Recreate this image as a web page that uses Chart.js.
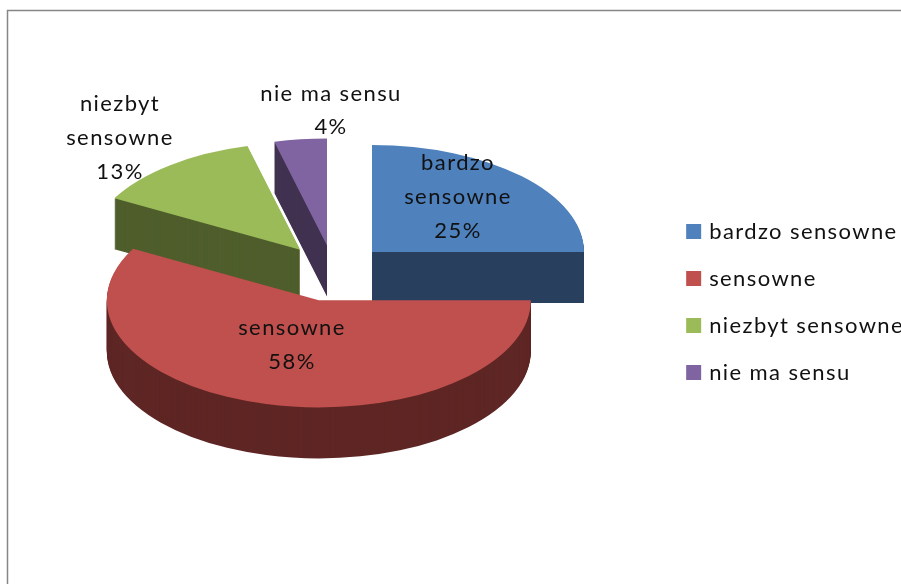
<!DOCTYPE html>
<html>
<head>
<meta charset="utf-8">
<style>html,body{margin:0;padding:0;background:#fff;overflow:hidden}canvas{display:block}</style>
<script src="https://cdn.jsdelivr.net/npm/chart.js@4"></script>
</head>
<body>
<canvas id="c" width="901" height="584"></canvas>
<script>
const categories = ['bardzo sensowne', 'sensowne', 'niezbyt sensowne', 'nie ma sensu'];
const values = [25, 58, 13, 4];
const topColors = ['#4F81BD', '#C0504D', '#9BBB59', '#8064A2'];
const sideColors = ['#283F5E', '#5E2624', '#4F5E2C', '#403250'];
const explode = [54.447, 59, 54.4, 51.9];
const drawOrder = [0, 3, 2, 1];
const labelLines = [['bardzo', 'sensowne', '25%'], ['sensowne', '58%'], ['niezbyt', 'sensowne', '13%'], ['nie ma sensu', '4%']];
const labelCenters = [[458, 197], [292, 345], [120, 138], [331, 110.5]];

const FONT = '22px Lato';
const SPACING = '1.4px';
const SQUASH = 0.505, DEPTH = 51, CX = 333.5, CY = 271.5;

function flatOptions(color) {
  return { backgroundColor: color, borderColor: color, borderWidth: 0, borderAlign: 'center', borderRadius: 0,
    borderJoinStyle: 'round', borderDash: [], borderDashOffset: 0, offset: 0, spacing: 0, circular: true, selfJoin: false };
}

const pie3d = {
  id: 'pie3d',
  beforeLayout(chart) { chart.ctx.letterSpacing = SPACING; },
  beforeDraw(chart) {
    const ctx = chart.ctx;
    ctx.letterSpacing = SPACING;
    ctx.save();
    ctx.strokeStyle = '#868686';
    ctx.lineWidth = 1.5;
    ctx.beginPath();
    ctx.moveTo(7.5, 584); ctx.lineTo(7.5, 10.5); ctx.lineTo(901, 10.5);
    ctx.stroke();
    ctx.restore();
  },
  beforeDatasetsDraw(chart) {
    const ctx = chart.ctx;
    const arcs = chart.getDatasetMeta(0).data;
    drawOrder.forEach(i => {
      const arc = arcs[i];
      const mid = (arc.startAngle + arc.endAngle) / 2;
      const paint = (shift, color) => {
        ctx.save();
        ctx.translate(CX, CY + shift);
        ctx.scale(1, SQUASH);
        ctx.translate(Math.cos(mid) * explode[i] - arc.x, Math.sin(mid) * explode[i] - arc.y);
        const saved = arc.options;
        arc.options = flatOptions(color);
        arc.draw(ctx);
        arc.options = saved;
        ctx.restore();
      };
      for (let d = DEPTH; d > 0; d--) paint(d, sideColors[i]);
      paint(0, topColors[i]);
    });
    return false;
  },
  afterDraw(chart) {
    const ctx = chart.ctx;
    ctx.save();
    ctx.font = FONT;
    ctx.letterSpacing = SPACING;
    ctx.fillStyle = '#111';
    ctx.textAlign = 'center';
    ctx.textBaseline = 'middle';
    labelLines.forEach((lines, i) => {
      const [x, y] = labelCenters[i];
      lines.forEach((t, k) => ctx.fillText(t, x, y + (k - (lines.length - 1) / 2) * 33.7));
    });
    ctx.restore();
  }
};

new Chart(document.getElementById('c'), {
  type: 'pie',
  data: { labels: categories, datasets: [{ data: values, backgroundColor: topColors, borderWidth: 0 }] },
  options: {
    responsive: false,
    animation: false,
    layout: { padding: { top: 90, bottom: 70, left: 0, right: -13 } },
    plugins: {
      tooltip: { enabled: false },
      legend: {
        position: 'right',
        labels: {
          font: { family: 'Lato', size: 22 },
          color: '#111',
          boxWidth: 9,
          boxHeight: 9,
          padding: 25,
          generateLabels(chart) {
            return Chart.overrides.doughnut.plugins.legend.labels.generateLabels(chart)
              .map(it => ({ ...it, strokeStyle: it.fillStyle, lineWidth: 6 }));
          }
        }
      }
    }
  },
  plugins: [pie3d]
});
</script>
</body>
</html>
